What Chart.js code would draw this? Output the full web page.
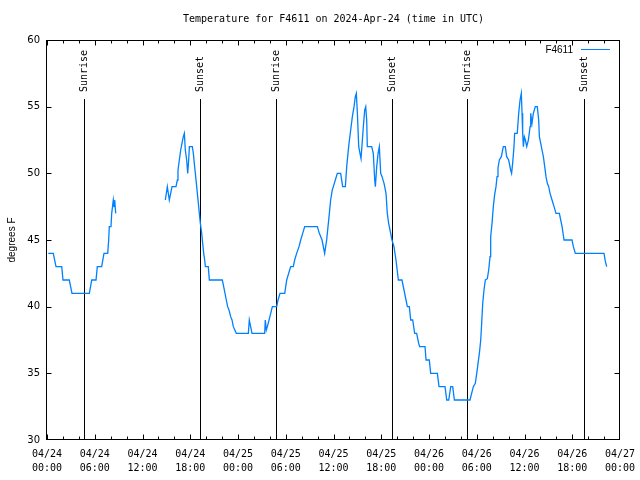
<!DOCTYPE html>
<html>
<head>
<meta charset="utf-8">
<title>Temperature for F4611</title>
<script src="https://cdn.jsdelivr.net/npm/chart.js@4"></script>
<style>
html, body { margin: 0; padding: 0; background: #fff; }
#wrap { width: 640px; height: 480px; }
</style>
</head>
<body>
<div id="wrap"><canvas id="myChart" width="640" height="480"></canvas></div>
<script>
// hours since 2024-04-24 00:00 UTC
const hours = [
    0.16, 0.79, 1.13, 1.85, 2.01, 2.80, 3.14, 5.32, 5.62, 6.16, 6.32, 6.87, 7.16, 7.63, 7.75, 7.83, 8.04, 8.13, 8.33, 8.42, 8.51, 8.63,
    11.5,
    14.87, 15.12, 15.37, 15.54, 15.71, 16.21, 16.38, 16.46, 16.63, 16.80, 16.96, 17.13, 17.26, 17.38, 17.55, 17.68, 17.80, 17.89, 18.26,
    18.39, 18.51, 18.64, 18.77, 18.89, 19.02, 19.14, 19.27, 19.44, 19.56, 19.69, 19.81, 19.90, 20.27, 20.40, 22.03, 22.20, 22.37, 22.53,
    22.70, 22.87, 23.08, 23.25, 23.41, 23.79, 25.30, 25.42, 25.59, 25.76, 27.35, 27.43, 27.56, 27.69, 27.90, 28.11, 28.32, 28.86, 29.03,
    29.28, 29.87, 30.12, 30.62, 30.95, 31.12, 31.37, 31.67, 31.88, 32.13, 32.38, 33.97, 34.22, 34.56, 34.89, 35.14, 35.31, 35.48, 35.64,
    35.85, 35.98, 36.23, 36.48, 36.90, 37.15, 37.49, 37.66, 37.82, 37.95, 38.16, 38.37, 38.58, 38.74, 38.87, 39.00, 39.17, 39.33, 39.46,
    39.75, 39.92, 40.05, 40.17, 40.25, 40.80, 41.00, 41.18, 41.26, 41.43, 41.60, 41.76, 41.93, 42.10, 42.35, 42.60, 42.76, 42.93, 43.10,
    43.35, 43.60, 43.85, 44.15, 44.60, 44.86, 45.11, 45.28, 45.53, 45.70, 45.95, 46.20, 46.45, 46.70, 46.83, 47.50, 47.63, 48.04, 48.21,
    49.05, 49.26, 50.01, 50.23, 50.48, 50.73, 50.98, 51.19, 53.15, 53.57, 53.82, 54.00, 54.16, 54.33, 54.50, 54.62, 54.75, 54.91, 55.08,
    55.33, 55.50, 55.67, 55.75, 55.92, 56.08, 56.25, 56.42, 56.55, 56.67, 56.84, 57.09, 57.34, 57.59, 57.76, 58.01, 58.26, 58.38, 58.51,
    58.68, 58.76, 59.09, 59.27, 59.44, 59.60, 59.69, 59.77, 59.86, 59.98, 60.11, 60.28, 60.49, 60.70, 60.78, 60.94, 61.11, 61.36, 61.61,
    61.78, 61.87, 62.04, 62.20, 62.37, 62.54, 62.70, 62.87, 63.04, 63.21, 63.46, 63.71, 63.96, 64.38, 64.55, 64.72, 64.97, 65.97, 66.14,
    66.39, 69.99, 70.16, 70.33
];
const tempF = [
    44, 44, 43, 43, 42, 42, 41, 41, 42, 42, 43, 43, 44, 44, 45, 46, 46, 47, 48, 47.5, 48, 47,
    null,
    48, 49, 48, 48.5, 49, 49, 49.5, 50.25, 51, 51.75, 52.25, 52.75, 53, 51.75, 51, 50, 51, 52, 52,
    51.5, 50.75, 50, 49.25, 48.5, 47.75, 47, 46.25, 45.5, 44.75, 44, 43.5, 43, 43, 42, 42, 41.5, 41, 40.5,
    40, 39.75, 39.25, 39, 38.5, 38, 38, 39, 38.5, 38, 38, 39, 38.25, 38.5, 39, 39.5, 40, 40, 40.5,
    41, 41, 42, 43, 43, 43.5, 44, 44.5, 45, 45.5, 46, 46, 45.5, 45, 44, 45, 46, 47, 48,
    48.75, 49, 49.5, 50, 50, 49, 49, 50.5, 51.5, 52.25, 53.25, 54.25, 55, 55.75, 56, 54.5, 52, 51.5, 51.1,
    53.5, 54.75, 55, 54, 52, 52, 51.5, 49.5, 49, 50.5, 51.5, 52, 50, 49.75, 49.25, 48.5, 47, 46.25, 45.75,
    45, 44.5, 43.5, 42, 42, 41.25, 40.5, 40, 40, 39, 39, 38, 38, 37.25, 37, 37, 36, 36, 35,
    35, 34, 34, 33, 33, 34, 34, 33, 33, 34, 34.25, 35, 35.75, 36.5, 37.5, 38.75, 40.25, 41.25, 42,
    42.1, 42.75, 43.75, 45.25, 46.25, 47.5, 48.4, 49, 49.75, 50.4, 51, 51.25, 52, 52, 51.25, 51, 50.25, 50, 50.75,
    52, 53, 53, 54.5, 55.5, 56, 54.5, 53, 52, 52.75, 52.5, 52, 52.5, 53.5, 54.5, 53.75, 54.5, 55, 55,
    54, 52.75, 52.25, 51.75, 51.25, 50.5, 49.75, 49.25, 49, 48.5, 48, 47.5, 47, 47, 46.5, 46, 45, 45, 44.5,
    44, 44, 43.4, 43
];
const sunriseHours = [4.7, 28.78, 52.82];
const sunsetHours = [19.26, 43.39, 67.52];
const tickDates = ['04/24', '04/24', '04/24', '04/24', '04/25', '04/25', '04/25', '04/25', '04/26', '04/26', '04/26', '04/26', '04/27'];
const tickTimes = ['00:00', '06:00', '12:00', '18:00', '00:00', '06:00', '12:00', '18:00', '00:00', '06:00', '12:00', '18:00', '00:00'];
const seriesName = 'F4611';
const titleText = 'Temperature for F4611 on 2024-Apr-24 (time in UTC)';

const lineColor = 'rgb(0,128,255)';
const mono = '"DejaVu Sans Mono", monospace';
const sans = '"Liberation Sans", Arial, sans-serif';

// gnuplot style frame, inward ticks, sun markers, title and key
const decorations = {
    id: 'decorations',
    beforeDatasetsDraw(chart) {
        const { ctx, chartArea: a, scales: { x } } = chart;
        ctx.save();
        ctx.strokeStyle = '#000';
        ctx.fillStyle = '#000';
        ctx.lineWidth = 1;
        ctx.font = '10px ' + mono;
        const marks = sunriseHours.map(h => [h, 'Sunrise']).concat(sunsetHours.map(h => [h, 'Sunset']));
        marks.forEach(([h, label]) => {
            const px = Math.round(x.getPixelForValue(h)) + 0.5;
            ctx.beginPath();
            ctx.moveTo(px, 99);
            ctx.lineTo(px, a.bottom);
            ctx.stroke();
            ctx.save();
            ctx.translate(px, 92);
            ctx.rotate(-Math.PI / 2);
            ctx.textAlign = 'left';
            ctx.textBaseline = 'middle';
            ctx.fillText(label, 0, 0);
            ctx.restore();
        });
        ctx.restore();
    },
    afterDraw(chart) {
        const { ctx, chartArea: a, scales: { x, y } } = chart;
        ctx.save();
        ctx.strokeStyle = '#000';
        ctx.lineWidth = 1;
        const L = a.left - 0.5, R = a.right - 0.5, T = a.top + 0.5, B = a.bottom - 0.5;
        ctx.strokeRect(L, T, R - L, B - T);

        ctx.beginPath();
        for (let v = 30; v <= 60; v += 5) {
            const py = Math.min(Math.max(Math.round(y.getPixelForValue(v)) + 0.5, T), B);
            ctx.moveTo(L, py); ctx.lineTo(L + 5, py);
            ctx.moveTo(R, py); ctx.lineTo(R - 5, py);
        }
        for (let h = 0; h <= 72; h += 2) {
            const px = Math.min(Math.max(Math.round(x.getPixelForValue(h)) + 0.5, L), R);
            const len = h % 6 === 0 ? 5 : 3;
            ctx.moveTo(px, B); ctx.lineTo(px, B - len);
            ctx.moveTo(px, T); ctx.lineTo(px, T + len);
        }
        ctx.stroke();

        // title
        ctx.fillStyle = '#000';
        ctx.font = '10px ' + mono;
        ctx.textAlign = 'center';
        ctx.textBaseline = 'middle';
        ctx.fillText(titleText, (a.left + a.right) / 2, 19);

        // key
        ctx.font = '10px ' + sans;
        ctx.textAlign = 'right';
        ctx.fillText(seriesName, 573, 50);
        ctx.strokeStyle = lineColor;
        ctx.beginPath();
        ctx.moveTo(581, 49.5);
        ctx.lineTo(610, 49.5);
        ctx.stroke();
        ctx.restore();
    }
};

document.addEventListener("DOMContentLoaded", function() {
    const ctx = document.getElementById('myChart').getContext('2d');
    const myChart = new Chart(ctx, {
        type: 'line',
        data: {
            datasets: [{
                label: seriesName,
                data: hours.map((h, i) => ({ x: h, y: tempF[i] })),
                borderColor: lineColor,
                backgroundColor: lineColor,
                borderWidth: 1.3,
                pointRadius: 0,
                tension: 0,
                spanGaps: false,
                fill: false
            }]
        },
        options: {
            responsive: false,
            animation: false,
            devicePixelRatio: 1,
            layout: { padding: { top: 40, right: 20, left: 0, bottom: 0 } },
            plugins: {
                legend: { display: false },
                title: { display: false },
                tooltip: { enabled: false }
            },
            scales: {
                x: {
                    type: 'linear',
                    min: 0,
                    max: 72,
                    grid: { display: false, drawTicks: false },
                    border: { display: false },
                    afterFit: s => { s.height = 40; s.paddingLeft = 0; s.paddingRight = 0; },
                    ticks: {
                        stepSize: 6,
                        autoSkip: false,
                        maxRotation: 0,
                        minRotation: 0,
                        padding: 7,
                        color: '#000',
                        font: { family: mono, size: 10, lineHeight: 1.4 },
                        callback: v => {
                            const i = Math.round(v / 6);
                            return [tickDates[i], tickTimes[i]];
                        }
                    }
                },
                y: {
                    min: 30,
                    max: 60,
                    grid: { display: false, drawTicks: false },
                    border: { display: false },
                    afterFit: s => { s.width = 47; s.paddingTop = 0; s.paddingBottom = 0; },
                    title: {
                        display: true,
                        text: 'degrees F',
                        color: '#000',
                        font: { family: sans, size: 10 },
                        padding: { top: 6, bottom: 0 }
                    },
                    ticks: {
                        stepSize: 5,
                        padding: 7,
                        color: '#000',
                        font: { family: '"DejaVu Sans", sans-serif', size: 10 }
                    }
                }
            }
        },
        plugins: [decorations]
    });
});
</script>
</body>
</html>
